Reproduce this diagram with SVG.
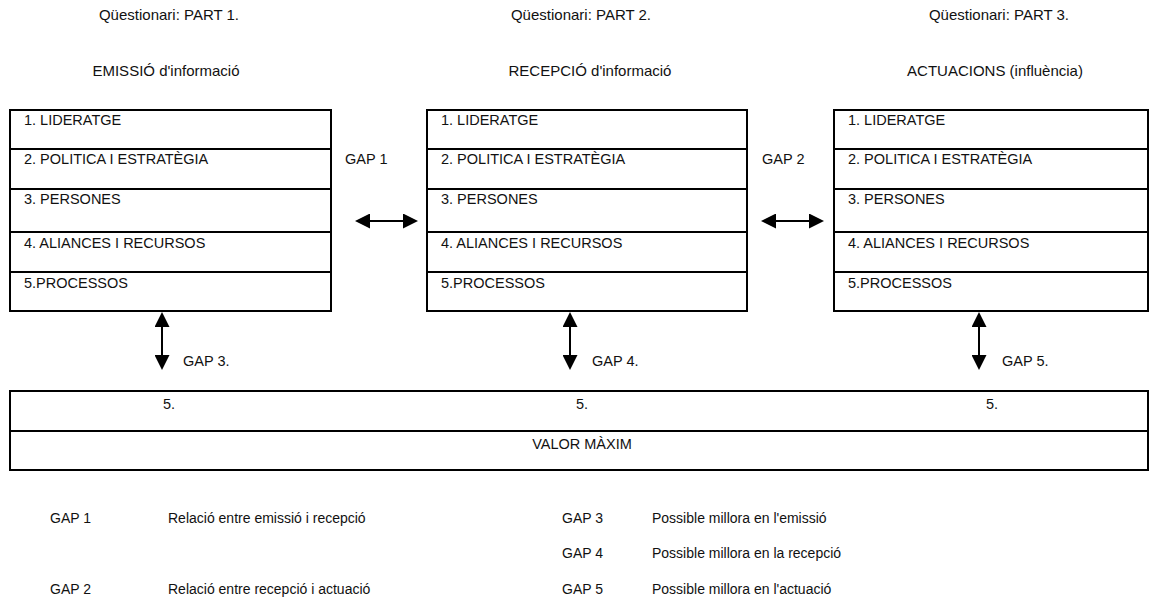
<svg xmlns="http://www.w3.org/2000/svg" width="1157" height="604" viewBox="0 0 1157 604">
  <style>
    text { font-family: "Liberation Sans", Arial, sans-serif; font-size: 14.5px; fill: #111; }
    .title { font-size: 15px; text-anchor: middle; }
    .legend { font-size: 14px; }
    .mid { text-anchor: middle; }
    .box { fill: #fff; stroke: #000; stroke-width: 2; }
    .rule { stroke: #000; stroke-width: 2; }
    .conn { stroke: #000; stroke-width: 2; fill: none; marker-start: url(#head); marker-end: url(#head); }
  </style>
  <defs>
    <marker id="head" viewBox="0 0 15 15" refX="13" refY="7.5" markerWidth="15" markerHeight="15" markerUnits="userSpaceOnUse" orient="auto-start-reverse">
      <path d="M0,0 L15,7.5 L0,15 Z" fill="#000"/>
    </marker>
  </defs>

  <!-- column headings -->
  <g id="headings">
    <text class="title" x="169" y="20">Qüestionari: PART 1.</text>
    <text class="title" x="166" y="76">EMISSIÓ d'informació</text>
    <text class="title" x="581" y="20">Qüestionari: PART 2.</text>
    <text class="title" x="590" y="76">RECEPCIÓ d'informació</text>
    <text class="title" x="999" y="20">Qüestionari: PART 3.</text>
    <text class="title" x="995" y="76">ACTUACIONS (influència)</text>
  </g>

  <!-- criteria stack: emission -->
  <g id="emissio">
    <rect class="box" x="10" y="110" width="321" height="201"/>
    <line class="rule" x1="10" y1="149" x2="331" y2="149"/>
    <line class="rule" x1="10" y1="189" x2="331" y2="189"/>
    <line class="rule" x1="10" y1="232" x2="331" y2="232"/>
    <line class="rule" x1="10" y1="272" x2="331" y2="272"/>
    <text x="24" y="125">1. LIDERATGE</text>
    <text x="24" y="164">2. POLITICA I ESTRATÈGIA</text>
    <text x="24" y="204">3. PERSONES</text>
    <text x="24" y="248">4. ALIANCES I RECURSOS</text>
    <text x="24" y="288">5.PROCESSOS</text>
  </g>

  <!-- criteria stack: reception -->
  <g id="recepcio">
    <rect class="box" x="427" y="110" width="320" height="201"/>
    <line class="rule" x1="427" y1="149" x2="747" y2="149"/>
    <line class="rule" x1="427" y1="189" x2="747" y2="189"/>
    <line class="rule" x1="427" y1="232" x2="747" y2="232"/>
    <line class="rule" x1="427" y1="272" x2="747" y2="272"/>
    <text x="441" y="125">1. LIDERATGE</text>
    <text x="441" y="164">2. POLITICA I ESTRATÈGIA</text>
    <text x="441" y="204">3. PERSONES</text>
    <text x="441" y="248">4. ALIANCES I RECURSOS</text>
    <text x="441" y="288">5.PROCESSOS</text>
  </g>

  <!-- criteria stack: actions -->
  <g id="actuacions">
    <rect class="box" x="834" y="110" width="314" height="201"/>
    <line class="rule" x1="834" y1="149" x2="1148" y2="149"/>
    <line class="rule" x1="834" y1="189" x2="1148" y2="189"/>
    <line class="rule" x1="834" y1="232" x2="1148" y2="232"/>
    <line class="rule" x1="834" y1="272" x2="1148" y2="272"/>
    <text x="848" y="125">1. LIDERATGE</text>
    <text x="848" y="164">2. POLITICA I ESTRATÈGIA</text>
    <text x="848" y="204">3. PERSONES</text>
    <text x="848" y="248">4. ALIANCES I RECURSOS</text>
    <text x="848" y="288">5.PROCESSOS</text>
  </g>

  <!-- maximum value band -->
  <g id="valor-maxim">
    <rect class="box" x="10" y="391" width="1138" height="79"/>
    <line class="rule" x1="10" y1="431" x2="1148" y2="431"/>
    <text x="163" y="409">5.</text>
    <text x="576" y="409">5.</text>
    <text x="986" y="409">5.</text>
    <text class="mid" x="582" y="449">VALOR MÀXIM</text>
  </g>

  <!-- gap connectors -->
  <g id="connectors">
    <line class="conn" x1="357" y1="221" x2="416" y2="221"/>
    <line class="conn" x1="763" y1="221" x2="822" y2="221"/>
    <line class="conn" x1="162" y1="314" x2="162" y2="368"/>
    <line class="conn" x1="570" y1="314" x2="570" y2="368"/>
    <line class="conn" x1="979" y1="314" x2="979" y2="368"/>
  </g>

  <!-- gap labels -->
  <g id="gap-labels">
    <text x="345" y="164">GAP 1</text>
    <text x="762" y="164">GAP 2</text>
    <text x="183" y="366">GAP 3.</text>
    <text x="592" y="366">GAP 4.</text>
    <text x="1002" y="366">GAP 5.</text>
  </g>

  <!-- legend -->
  <g id="legend">
    <text class="legend" x="50" y="523">GAP 1</text>
    <text class="legend" x="168" y="523">Relació entre emissió i recepció</text>
    <text class="legend" x="50" y="594">GAP 2</text>
    <text class="legend" x="168" y="594">Relació entre recepció i actuació</text>
    <text class="legend" x="562" y="523">GAP 3</text>
    <text class="legend" x="652" y="523">Possible millora en l'emissió</text>
    <text class="legend" x="562" y="558">GAP 4</text>
    <text class="legend" x="652" y="558">Possible millora en la recepció</text>
    <text class="legend" x="562" y="594">GAP 5</text>
    <text class="legend" x="652" y="594">Possible millora en l'actuació</text>
  </g>
</svg>
